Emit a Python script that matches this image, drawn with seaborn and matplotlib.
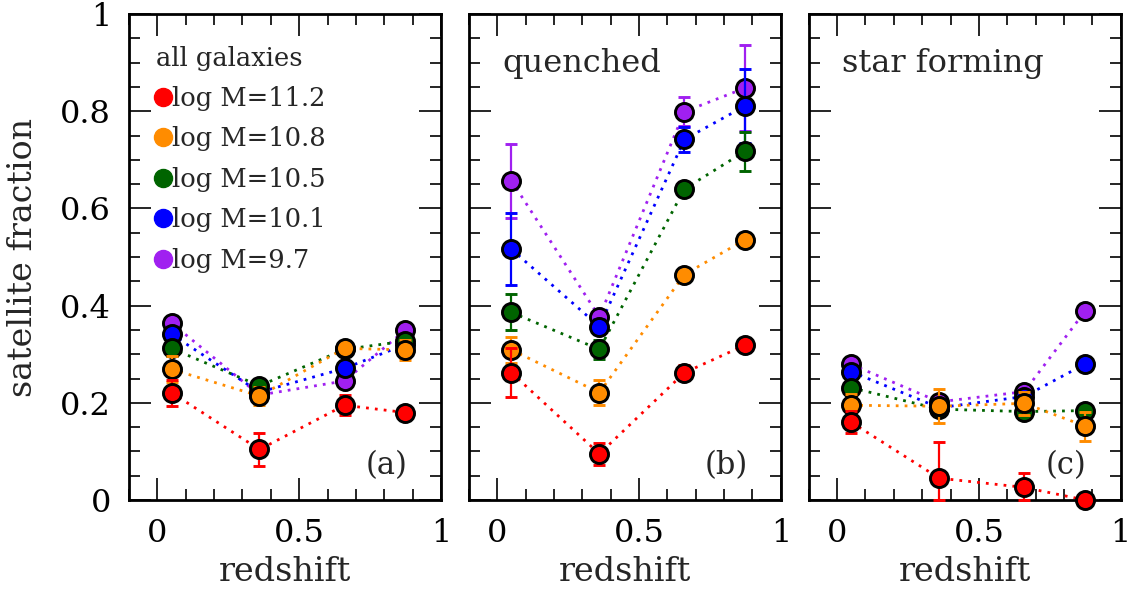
import numpy as np
import pandas as pd
import matplotlib
matplotlib.use('Agg')
import matplotlib.pyplot as plt
import seaborn as sns
from matplotlib.lines import Line2D
from matplotlib.ticker import MultipleLocator, FixedLocator, FixedFormatter

# redshift bins
redshift = [0.05, 0.36, 0.66, 0.875]

# stellar mass bins, drawn from low to high mass so the red points end on top
masses = ['9.7', '10.1', '10.5', '10.8', '11.2']
colors = ['#a020f0', '#0000ff', '#006400', '#ff8c00', '#ff0000']

# (a) all galaxies
all_frac = [[0.364, 0.216, 0.245, 0.350],
            [0.341, 0.222, 0.271, 0.320],
            [0.312, 0.235, 0.310, 0.327],
            [0.269, 0.214, 0.312, 0.309],
            [0.221, 0.104, 0.195, 0.180]]
all_err = [[0.010, 0.010, 0.010, 0.010],
           [0.010, 0.010, 0.010, 0.010],
           [0.015, 0.010, 0.010, 0.010],
           [0.027, 0.018, 0.010, 0.021],
           [0.027, 0.034, 0.021, 0.010]]

# (b) quenched
q_frac = [[0.657, 0.377, 0.799, 0.848],
          [0.516, 0.357, 0.742, 0.811],
          [0.386, 0.310, 0.640, 0.718],
          [0.309, 0.221, 0.464, 0.536],
          [0.262, 0.095, 0.262, 0.319]]
q_err = [[0.076, 0.010, 0.030, 0.088],
         [0.074, 0.015, 0.026, 0.076],
         [0.037, 0.020, 0.015, 0.040],
         [0.027, 0.025, 0.010, 0.010],
         [0.050, 0.022, 0.015, 0.015]]

# (c) star forming
sf_frac = [[0.279, 0.202, 0.223, 0.389],
           [0.264, 0.190, 0.213, 0.280],
           [0.231, 0.187, 0.182, 0.184],
           [0.195, 0.193, 0.199, 0.152],
           [0.160, 0.045, 0.026, 0.000]]
sf_err = [[0.010, 0.010, 0.010, 0.010],
          [0.010, 0.010, 0.010, 0.010],
          [0.010, 0.015, 0.015, 0.012],
          [0.024, 0.035, 0.024, 0.030],
          [0.023, 0.074, 0.030, 0.010]]

titles = [None, 'quenched', 'star forming']
letters = ['(a)', '(b)', '(c)']

sns.set_theme(style='ticks')
plt.rcParams['font.family'] = ['DejaVu Serif']
plt.rcParams.update({
  'axes.edgecolor': 'black', 'axes.linewidth': 2,
  'xtick.color': 'black', 'ytick.color': 'black',
  'xtick.direction': 'in', 'ytick.direction': 'in',
  'xtick.top': True, 'ytick.right': True,
  'xtick.major.size': 16, 'xtick.minor.size': 8,
  'ytick.major.size': 16, 'ytick.minor.size': 8,
  'xtick.major.width': 1.2, 'xtick.minor.width': 1.2,
  'ytick.major.width': 1.2, 'ytick.minor.width': 1.2,
  'xtick.major.pad': 13, 'ytick.major.pad': 13,
  'xtick.labelsize': 23, 'ytick.labelsize': 23,
  'axes.labelsize': 24,
})

fig, axes = plt.subplots(1, 3, figsize=(11.32, 5.96), dpi=100, sharey=True)
fig.subplots_adjust(left=0.114, right=0.990, bottom=0.161, top=0.9765, wspace=0.0897)

panels = [(all_frac, all_err), (q_frac, q_err), (sf_frac, sf_err)]
for k, ax in enumerate(axes):
  frac, err = panels[k]
  rows = []
  for i, m in enumerate(masses):
    for j, z in enumerate(redshift):
      rows.append({'z': z, 'frac': frac[i][j], 'mass': m})
  df = pd.DataFrame(rows)
  sns.lineplot(data=df, x='z', y='frac', hue='mass', hue_order=masses,
               palette=colors, errorbar=None, legend=False, ax=ax,
               linestyle=(0, (1, 2.2)), linewidth=2, zorder=1)
  for i, m in enumerate(masses):
    f = np.array(frac[i])
    e = np.array(err[i])
    lo = np.minimum(e, f)
    ax.errorbar(redshift, f, yerr=[lo, e], fmt='o', color=colors[i],
                mec='black', mew=2.1, ms=13, elinewidth=1.6, capsize=4.5,
                capthick=1.6, clip_on=False, zorder=3 + i)

  ax.set_xlim(-0.1, 1.0)
  ax.set_ylim(0, 1)
  ax.xaxis.set_major_locator(FixedLocator([0, 0.5, 1]))
  ax.xaxis.set_major_formatter(FixedFormatter(['0', '0.5', '1']))
  ax.xaxis.set_minor_locator(MultipleLocator(0.1))
  ax.yaxis.set_major_locator(FixedLocator([0, 0.2, 0.4, 0.6, 0.8, 1]))
  ax.yaxis.set_major_formatter(FixedFormatter(['0', '0.2', '0.4', '0.6', '0.8', '1']))
  ax.yaxis.set_minor_locator(MultipleLocator(0.05))
  ax.tick_params(which='both', top=True, right=True)
  ax.set_xlabel('redshift')
  ax.xaxis.set_label_coords(0.5, -0.115)
  ax.set_ylabel('')
  ax.text(0.825, 0.07, letters[k], transform=ax.transAxes, fontsize=22,
          ha='center', va='center')
  if titles[k]:
    ax.text(0.106, 0.881, titles[k], transform=ax.transAxes, fontsize=23,
            ha='left', va='baseline')

axes[0].set_ylabel('satellite fraction')
axes[0].yaxis.set_label_coords(-0.29, 0.5)

# legend for the mass bins, high mass first
handles = [Line2D([], [], marker='o', ls='none', color=colors[i], mec=colors[i], ms=13)
           for i in range(len(masses) - 1, -1, -1)]
labels = ['log M=' + masses[i] for i in range(len(masses) - 1, -1, -1)]
axes[0].legend(handles, labels, title='all galaxies', loc='upper left',
               bbox_to_anchor=(0.085, 0.935), frameon=False, fontsize=18.5,
               title_fontsize=18.5, handlelength=0.6, handletextpad=0.05,
               labelspacing=0.6, borderpad=0, borderaxespad=0, alignment='left')

fig.savefig('out.png', dpi=100)
